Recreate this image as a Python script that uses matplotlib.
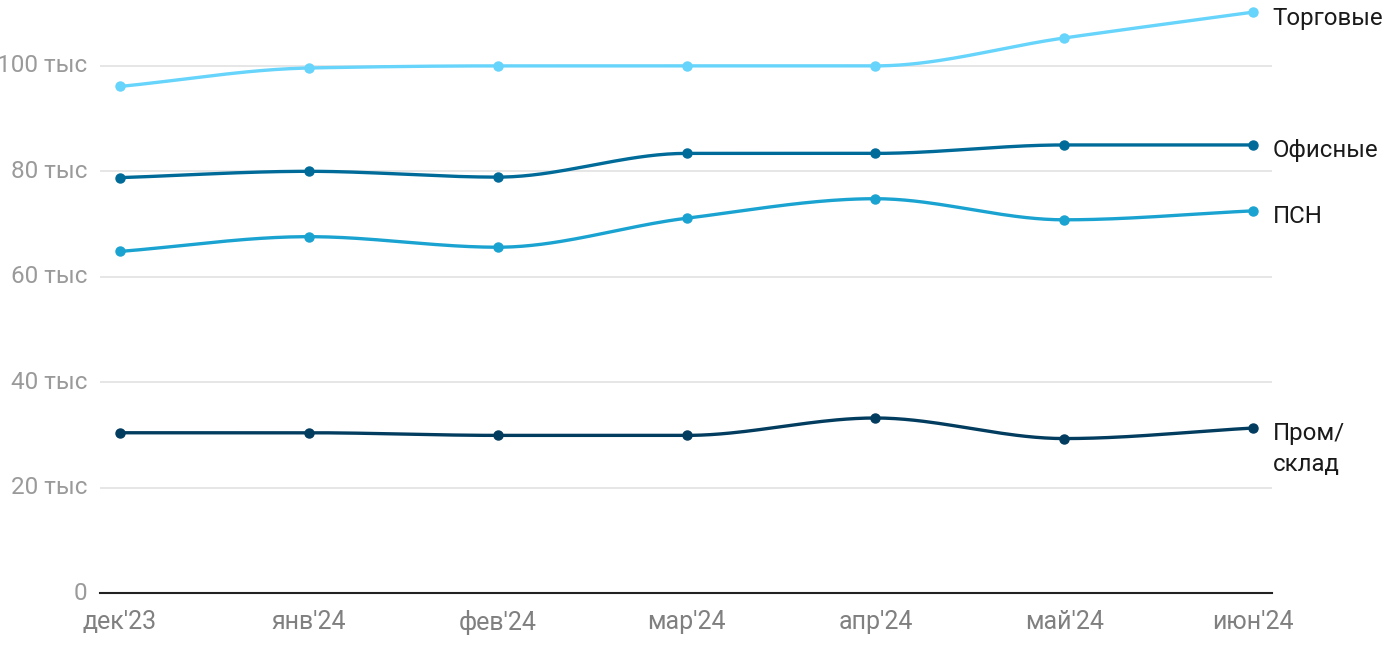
import numpy as np
import matplotlib.pyplot as plt

plt.rcParams['font.family'] = ['Roboto', 'DejaVu Sans']

months = ["дек'23", "янв'24", "фев'24", "мар'24", "апр'24", "май'24", "июн'24"]
torg = [96.1, 99.6, 100.0, 100.0, 100.0, 105.3, 110.2]
ofis = [78.8, 80.0, 78.9, 83.4, 83.4, 85.0, 85.0]
psn = [64.8, 67.6, 65.6, 71.1, 74.8, 70.8, 72.5]
prom = [30.4, 30.4, 29.9, 29.9, 33.2, 29.3, 31.3]

series = [
    ('Торговые', torg, '#66d4fb'),
    ('Офисные', ofis, '#006b99'),
    ('ПСН', psn, '#1aa3d1'),
    ('Пром/\nсклад', prom, '#023c5f'),
]


def monotone(x, y, n=40):
    # monotone cubic (Fritsch-Carlson), like d3 curveMonotoneX
    x = np.asarray(x, float)
    y = np.asarray(y, float)
    h = np.diff(x)
    d = np.diff(y) / h
    m = np.zeros_like(y)
    m[0], m[-1] = d[0], d[-1]
    for i in range(1, len(y) - 1):
        if d[i - 1] * d[i] <= 0:
            m[i] = 0
        else:
            w1 = 2 * h[i] + h[i - 1]
            w2 = h[i] + 2 * h[i - 1]
            m[i] = (w1 + w2) / (w1 / d[i - 1] + w2 / d[i])
    xs, ys = [], []
    for i in range(len(h)):
        t = np.linspace(0, 1, n)
        h00 = 2 * t**3 - 3 * t**2 + 1
        h10 = t**3 - 2 * t**2 + t
        h01 = -2 * t**3 + 3 * t**2
        h11 = t**3 - t**2
        xs.append(x[i] + t * h[i])
        ys.append(h00 * y[i] + h10 * h[i] * m[i] + h01 * y[i + 1] + h11 * h[i] * m[i + 1])
    return np.concatenate(xs), np.concatenate(ys)


fig = plt.figure(figsize=(14, 6.5), dpi=100)
ax = fig.add_axes([100 / 1400, 57 / 650, 1172 / 1400, 593 / 650])

x = np.arange(len(months))
for name, vals, col in series:
    vals_k = np.array(vals) * 1000
    sx, sy = monotone(x, vals_k)
    ax.plot(sx, sy, color=col, lw=2.4, solid_capstyle='round', zorder=3)
    ax.plot(x, vals_k, 'o', color=col, ms=6.5, zorder=4)
    # label sits a few px below the last point, first line at the point
    ax.annotate(name, (x[-1], vals_k[-1]), xytext=(14, 4), textcoords='offset points',
                fontsize=17.3, color='#1a1a1a', va='top', ha='left',
                linespacing=1.4, annotation_clip=False)

ax.set_xlim(-0.106, 6.1)
ax.set_ylim(0, 112500)
yt = [0, 20000, 40000, 60000, 80000, 100000]
ax.set_yticks(yt)
ax.set_yticklabels(['0'] + [f'{v // 1000} тыс' for v in yt[1:]])
ax.set_xticks(x)
ax.set_xticklabels(months)
ax.grid(axis='y', color='#e2e2e2', lw=1.2)
ax.set_axisbelow(True)
for s in ['top', 'right', 'left']:
    ax.spines[s].set_visible(False)
ax.spines['bottom'].set_color('#222222')
ax.spines['bottom'].set_linewidth(1.5)
ax.tick_params(axis='y', length=0, labelsize=17.5, labelcolor='#9a9a9a', pad=9)
ax.tick_params(axis='x', length=0, labelsize=18, labelcolor='#808080', pad=12)
for lbl in ax.get_yticklabels():
    lbl.set_verticalalignment('center')

fig.savefig('out.png', dpi=100)
